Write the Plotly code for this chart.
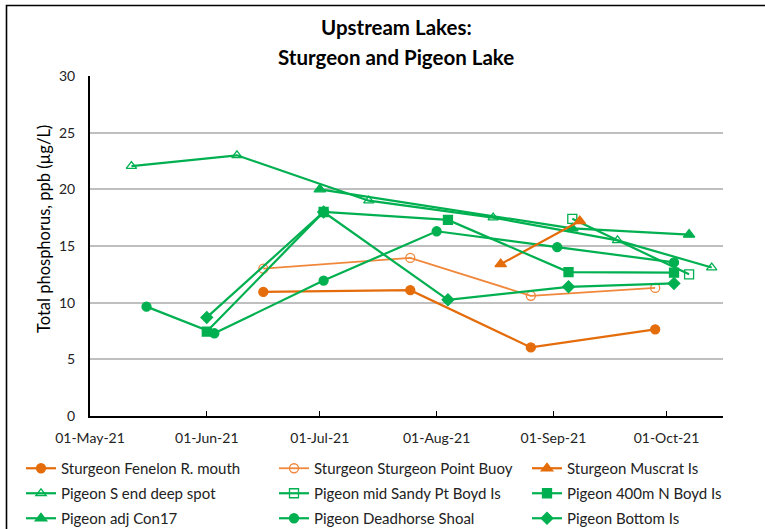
import plotly.graph_objects as go

# ---- data ----
fenelon_dates = ["2021-06-16", "2021-07-25", "2021-08-26", "2021-09-28"]
fenelon_vals = [10.95, 11.1, 6.05, 7.65]

ptbuoy_dates = ["2021-06-16", "2021-07-25", "2021-08-26", "2021-09-28"]
ptbuoy_vals = [13.0, 13.95, 10.6, 11.3]

muscrat_dates = ["2021-08-18", "2021-09-08"]
muscrat_vals = [13.4, 17.2]

send_dates = ["2021-05-12", "2021-06-09", "2021-07-14", "2021-08-16", "2021-09-18", "2021-10-13"]
send_vals = [22.05, 23.0, 19.0, 17.5, 15.5, 13.1]

sandy_dates = ["2021-09-06", "2021-10-07"]
sandy_vals = [17.4, 12.5]

nboyd_dates = ["2021-06-01", "2021-07-02", "2021-08-04", "2021-09-05", "2021-10-03"]
nboyd_vals = [7.45, 18.0, 17.3, 12.7, 12.65]

con17_dates = ["2021-07-01", "2021-09-06", "2021-10-07"]
con17_vals = [20.0, 16.55, 16.0]

deadhorse_dates = ["2021-05-16", "2021-06-03", "2021-07-02", "2021-08-01", "2021-09-02", "2021-10-03"]
deadhorse_vals = [9.65, 7.3, 11.95, 16.3, 14.9, 13.55]

bottom_dates = ["2021-06-01", "2021-07-02", "2021-08-04", "2021-09-05", "2021-10-03"]
bottom_vals = [8.7, 18.0, 10.25, 11.4, 11.7]

tick_dates = ["2021-05-01", "2021-06-01", "2021-07-01", "2021-08-01", "2021-09-01", "2021-10-01"]
tick_labels = ["01-May-21", "01-Jun-21", "01-Jul-21", "01-Aug-21", "01-Sep-21", "01-Oct-21"]

ORANGE = "#E46C0A"
ORANGE_L = "#F0873A"
GREEN = "#00B050"
FONT = "Lato"

series = [
    ("Sturgeon Fenelon R. mouth", fenelon_dates, fenelon_vals, ORANGE, "circle", 9, 2.2, "legend"),
    ("Pigeon S end deep spot", send_dates, send_vals, GREEN, "triangle-up-open", 9, 2.2, "legend"),
    ("Pigeon adj Con17", con17_dates, con17_vals, GREEN, "triangle-up", 10, 2.2, "legend"),
    ("Sturgeon Sturgeon Point Buoy", ptbuoy_dates, ptbuoy_vals, ORANGE_L, "circle-open", 9, 1.8, "legend2"),
    ("Pigeon mid Sandy Pt Boyd Is", sandy_dates, sandy_vals, GREEN, "square-open", 9, 2.2, "legend2"),
    ("Pigeon Deadhorse Shoal", deadhorse_dates, deadhorse_vals, GREEN, "circle", 9, 2.2, "legend2"),
    ("Sturgeon Muscrat Is", muscrat_dates, muscrat_vals, ORANGE, "triangle-up", 10, 2.2, "legend3"),
    ("Pigeon 400m N Boyd Is", nboyd_dates, nboyd_vals, GREEN, "square", 9, 2.2, "legend3"),
    ("Pigeon Bottom Is", bottom_dates, bottom_vals, GREEN, "diamond", 9, 2.2, "legend3"),
]

fig = go.Figure()
for i, (name, d, v, col, sym, ms, lw, lg) in enumerate(series):
    fig.add_trace(go.Scatter(
        x=d, y=v, name=name, mode="lines+markers",
        line=dict(color=col, width=lw),
        marker=dict(symbol=sym, size=ms, color=col, line=dict(color=col, width=1.3)),
        legend=lg, legendgroup=name,
    ))

W, H = 765, 529
L, R, T, B = 90, 42, 76, 113
pw, ph = W - L - R, H - T - B

def px(x):
    return (x - L) / pw

def py(y):
    return (H - B - y) / ph

leg_common = dict(orientation="v", yanchor="top", xanchor="left",
                  font=dict(family=FONT, size=15, color="#222222"),
                  tracegroupgap=2.5, bgcolor="rgba(0,0,0,0)", itemwidth=30,
                  traceorder="grouped")

fig.update_layout(
    width=W, height=H,
    margin=dict(l=L, r=R, t=T, b=B, autoexpand=False),
    paper_bgcolor="white", plot_bgcolor="white",
    font=dict(family=FONT, color="#222222"),
    showlegend=True,
    legend=dict(x=px(21), y=py(452), **leg_common),
    legend2=dict(x=px(274), y=py(452), **leg_common),
    legend3=dict(x=px(527), y=py(452), **leg_common),
    xaxis=dict(
        type="date", range=["2021-05-01", "2021-10-16"],
        tickvals=tick_dates, ticktext=tick_labels,
        ticks="inside", ticklen=5, tickcolor="black", tickwidth=1,
        showline=True, linecolor="black", linewidth=2,
        showgrid=False, zeroline=False,
        tickfont=dict(family=FONT, size=14, color="#222222"),
        ticklabelstandoff=8,
    ),
    yaxis=dict(
        range=[0, 30], tickvals=[0, 5, 10, 15, 20, 25, 30],
        showline=True, linecolor="black", linewidth=2,
        showgrid=True, gridcolor="#BFBFBF", gridwidth=1.5,
        zeroline=False, ticks="",
        tickfont=dict(family=FONT, size=14, color="#222222"),
        ticklabelstandoff=10,
    ),
    annotations=[
        dict(text="<b>Upstream Lakes:</b>", x=px(396), y=py(27), xref="paper", yref="paper",
             showarrow=False, font=dict(family=FONT, size=20.5, color="black"),
             xanchor="center", yanchor="middle"),
        dict(text="<b>Sturgeon and Pigeon Lake</b>", x=px(396), y=py(57), xref="paper", yref="paper",
             showarrow=False, font=dict(family=FONT, size=20.5, color="black"),
             xanchor="center", yanchor="middle"),
        dict(text="Total phosphorus, ppb (µg/L)", x=px(44), y=py(229), xref="paper", yref="paper",
             showarrow=False, textangle=-90, font=dict(family=FONT, size=16.5, color="black"),
             xanchor="center", yanchor="middle"),
    ],
    shapes=[
        dict(type="rect", xref="paper", yref="paper",
             x0=px(6.5), x1=px(900), y0=py(700), y1=py(5.5),
             line=dict(color="black", width=1.6), fillcolor="rgba(0,0,0,0)", layer="below"),
    ],
)

fig.write_html("out.html",
               config={"displayModeBar": False},
               post_script="document.body.style.margin='0';document.body.style.padding='0';"
                           "document.body.style.overflow='hidden';")
